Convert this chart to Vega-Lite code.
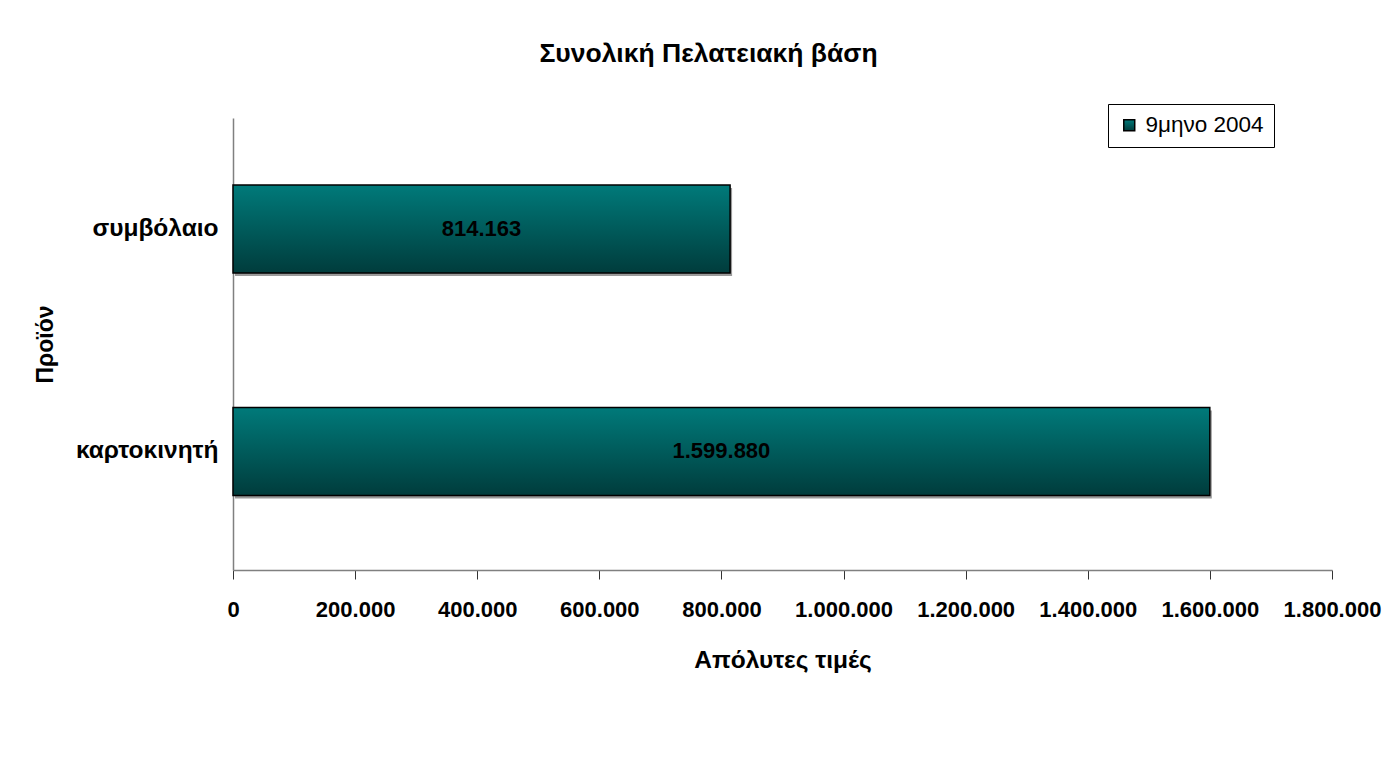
{
  "$schema": "https://vega.github.io/schema/vega-lite/v6.json",
  "autosize": {"type": "none"},
  "padding": {"left": 233, "top": 118, "right": 58, "bottom": 188},
  "width": 1099,
  "height": 452,
  "background": "white",
  "config": {
    "font": "Liberation Sans",
    "view": {"stroke": null},
    "locale": {"number": {"decimal": ",", "thousands": ".", "grouping": [3], "currency": ["", " €"]}}
  },
  "title": {
    "text": "Συνολική Πελατειακή βάση",
    "font": "Liberation Sans",
    "fontSize": 26.5,
    "fontWeight": "bold",
    "color": "black",
    "anchor": "middle",
    "dx": -74,
    "offset": 36
  },
  "data": {
    "values": [
      {"product": "συμβόλαιο", "series": "9μηνο 2004", "value": 814163},
      {"product": "καρτοκινητή", "series": "9μηνο 2004", "value": 1599880}
    ]
  },
  "encoding": {
    "y": {
      "field": "product",
      "type": "nominal",
      "sort": ["συμβόλαιο", "καρτοκινητή"],
      "scale": {"paddingInner": 0.6, "paddingOuter": 0.3157, "align": 0.473},
      "axis": {
        "title": "Προϊόν",
        "titleFont": "Liberation Sans",
        "titleFontSize": 23,
        "titleFontWeight": "bold",
        "titleColor": "black",
        "titlePadding": 18,
        "labelFont": "Liberation Sans",
        "labelFontSize": 24.5,
        "labelFontWeight": "bold",
        "labelColor": "black",
        "labelPadding": 15,
        "ticks": false,
        "domainColor": "#808080",
        "domainWidth": 1.5
      }
    }
  },
  "layer": [
    {
      "mark": {"type": "bar", "fill": "#9a9a9a", "xOffset": 2, "yOffset": 3, "size": 88},
      "encoding": {
        "x": {"field": "value", "type": "quantitative"}
      }
    },
    {
      "mark": {
        "type": "bar",
        "size": 88,
        "strokeWidth": 1.5,
        "fill": {
          "gradient": "linear",
          "x1": 0, "y1": 0, "x2": 0, "y2": 1,
          "stops": [
            {"offset": 0, "color": "#007a7a"},
            {"offset": 1, "color": "#003c3c"}
          ]
        }
      },
      "encoding": {
        "x": {
          "field": "value",
          "type": "quantitative",
          "scale": {"domain": [0, 1800000], "nice": false},
          "axis": {
            "title": "Απόλυτες τιμές",
            "titleFont": "Liberation Sans",
            "titleFontSize": 24.5,
            "titleFontWeight": "bold",
            "titleColor": "black",
            "titlePadding": 28,
            "values": [0, 200000, 400000, 600000, 800000, 1000000, 1200000, 1400000, 1600000, 1800000],
            "format": ",d",
            "labelFont": "Liberation Sans",
            "labelFontSize": 22,
            "labelFontWeight": "bold",
            "labelColor": "black",
            "labelPadding": 20,
            "labelOverlap": false,
            "labelFlush": false,
            "grid": false,
            "tickSize": 9,
            "tickColor": "#333333",
            "domainColor": "#808080",
            "domainWidth": 1.5
          }
        },
        "stroke": {
          "field": "series",
          "type": "nominal",
          "scale": {"range": ["black"]},
          "legend": {
            "title": null,
            "orient": "none",
            "legendX": 875,
            "legendY": -14,
            "symbolType": "square",
            "symbolSize": 120,
            "symbolFillColor": "#006060",
            "symbolStrokeWidth": 1.5,
            "labelFont": "Liberation Sans",
            "labelFontSize": 22.5,
            "labelColor": "black",
            "labelOffset": 5,
            "padding": 10,
            "strokeColor": "black",
            "fillColor": "white"
          }
        }
      }
    },
    {
      "mark": {
        "type": "text",
        "font": "Liberation Sans",
        "fontSize": 22,
        "fontWeight": "bold",
        "color": "black",
        "align": "center",
        "baseline": "middle",
        "xOffset": {"expr": "-scale('x', datum.value) / 2"}
      },
      "encoding": {
        "x": {"field": "value", "type": "quantitative"},
        "text": {"field": "value", "type": "quantitative", "format": ",d"}
      }
    }
  ]
}
